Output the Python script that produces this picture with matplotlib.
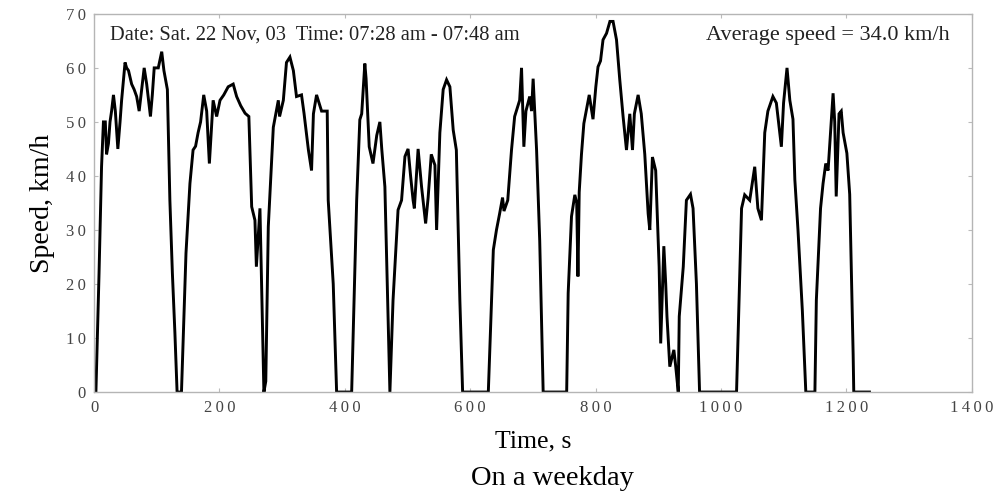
import matplotlib
matplotlib.use("Agg")
import matplotlib.pyplot as plt

# speed trace (time in s, speed in km/h)
time_s = [0, 3, 8, 12, 15, 18, 20, 23, 25.5, 28, 31, 34, 38, 41.5, 44, 46, 49.5, 52, 55,
          60, 64, 68, 72, 76, 80, 84, 87, 90, 93, 96, 102.5, 108, 111.5, 117, 121, 125,
          129, 132.5, 139.5, 146.7, 153, 158, 162, 166, 170, 175, 179.7, 184, 190, 195.6,
          201, 207, 214, 222, 227.5, 234, 241, 247, 251.5, 256.7, 259, 264.7, 269, 271,
          274, 278, 286, 294, 296, 302, 307, 312.5, 318, 323, 331, 335, 342, 347, 350,
          355, 363, 372, 373.6, 381.6, 387, 411, 419, 424, 427, 432, 434, 439, 445, 451,
          456, 459, 464, 472, 477, 485, 490.6, 496, 501, 505, 509, 511, 517, 522.5, 529,
          533, 538, 543.8, 546.5, 551.7, 557, 562.4, 567.7, 573, 578, 583.6, 588, 629,
          637, 642, 647, 651.7, 654, 660, 666, 671, 679, 682, 685.7, 689, 695, 698,
          700.5, 706, 711, 716.5, 754, 756.4, 761.7, 767, 770, 772, 774, 777.6, 781.4,
          790, 796, 800.5, 804, 808, 812, 817.6, 823, 828, 833.5, 838.7, 844, 849.4,
          854.7, 859, 862, 868, 873, 878.6, 884, 886.6, 890.8, 896, 901.5, 904, 909,
          912, 914, 918.5, 925, 928, 932, 933.6, 940, 945, 951.5, 955.6, 961, 966, 1025,
          1033, 1038, 1046, 1054, 1059, 1064.7, 1070, 1075, 1083, 1088.5, 1096.5, 1100,
          1105.5, 1110, 1115, 1118, 1123, 1130, 1135.5, 1150, 1152.3, 1159, 1163, 1167.3,
          1171, 1175, 1179, 1181.6, 1184, 1188.5, 1192, 1195, 1201, 1205.5, 1211, 1212,
          1237]
speed_kmh = [0, 0, 22, 41.7, 50, 50, 44, 46, 50, 52, 55, 52, 45, 50, 54, 56.5, 61, 60, 59.5,
             57, 56, 54.7, 52, 56, 60, 57, 54, 51, 55, 60, 60, 63, 59.5, 56, 35.5, 22,
             11, 0, 0, 25.7, 38.6, 44.8, 45.5, 48, 50, 55, 52, 42.3, 54, 51, 54, 55,
             56.5, 57, 54.7, 53, 51.6, 51, 34.3, 31.8, 23.2, 34, 11, 0, 2, 30.6, 49, 54,
             51, 54, 61, 62, 59.5, 54.7, 55, 51.6, 44.8, 41, 51.5, 55, 52, 52, 35.5, 20,
             0, 0, 35.5, 50.4, 51.5, 60.8, 58, 45.4, 42.3, 47.5, 50, 45, 38, 0, 17, 33.7,
             35.5, 43.6, 45, 40, 35.5, 34, 45, 38, 31.2, 36, 44, 42, 30, 48, 56, 57.8,
             56.5, 48.5, 44.8, 17, 0, 0, 26.3, 30, 33, 36, 33.5, 35.5, 44.8, 51, 54, 60,
             45.4, 52, 54.7, 52, 58, 44.8, 28, 0, 0, 18.3, 32.5, 36.5, 35, 21.4, 37, 44,
             49.7, 55, 50.5, 56.5, 60.2, 61.3, 65.2, 66.4, 68.6, 68.6, 65.2, 57.8, 51,
             44.8, 51.5, 44.8, 51.5, 55, 51.5, 44, 33, 30, 43.5, 41, 23.2, 9, 27, 20, 14,
             4.7, 7.8, 4.7, 0, 14, 23.2, 35.5, 36.6, 34, 20, 0, 0, 34, 36.5, 35.5, 41.7,
             34, 31.8, 48, 52, 54.7, 53.5, 45.4, 53.5, 60, 54, 50.5, 39.3, 30, 15, 0, 0,
             17, 34, 38.6, 42.3, 41, 48, 55.3, 50, 36.2, 51.5, 52, 48, 44.2, 36.6, 7, 0,
             0]

x_ticks = [0, 200, 400, 600, 800, 1000, 1200, 1400]
y_ticks = [0, 10, 20, 30, 40, 50, 60, 70]


def spaced(v):
    # the original tick labels have wide gaps between digits
    return '\u2009'.join(str(v))


plt.rcParams['font.family'] = ['Liberation Serif', 'DejaVu Serif']

fig = plt.figure(figsize=(9.95, 4.95), dpi=100)
ax = fig.add_axes([0.0945, 0.208, 0.882, 0.764])

ax.plot(time_s, speed_kmh, color='black', linewidth=2.1, solid_joinstyle='miter')
ax.set_xlim(0, 1400)
ax.set_ylim(0, 70)
ax.set_xticks(x_ticks, [spaced(v) for v in x_ticks])
ax.set_yticks(y_ticks, [spaced(v) for v in y_ticks])
ax.tick_params(direction='in', length=3, color='#bbbbbb', labelcolor='#444444',
               labelsize=12, top=True, right=True, pad=6)
for s in ax.spines.values():
    s.set_color('#b5b5b5')
    s.set_linewidth(1.0)

ax.set_xlabel('Time, s', fontsize=18.5, labelpad=10)
ax.set_ylabel('Speed, km/h', fontsize=20, labelpad=8)

ax.text(0.018, 0.943, 'Date: Sat. 22 Nov, 03  Time: 07:28 am - 07:48 am',
        transform=ax.transAxes, fontsize=14.8, va='center', ha='left', color='#222222')
ax.text(0.975, 0.943, 'Average speed = 34.0 km/h',
        transform=ax.transAxes, fontsize=16, va='center', ha='right', color='#222222')

fig.text(0.555, 0.033, 'On a weekday', fontsize=20.5, ha='center', va='center')

fig.savefig('out.png', dpi=100)
